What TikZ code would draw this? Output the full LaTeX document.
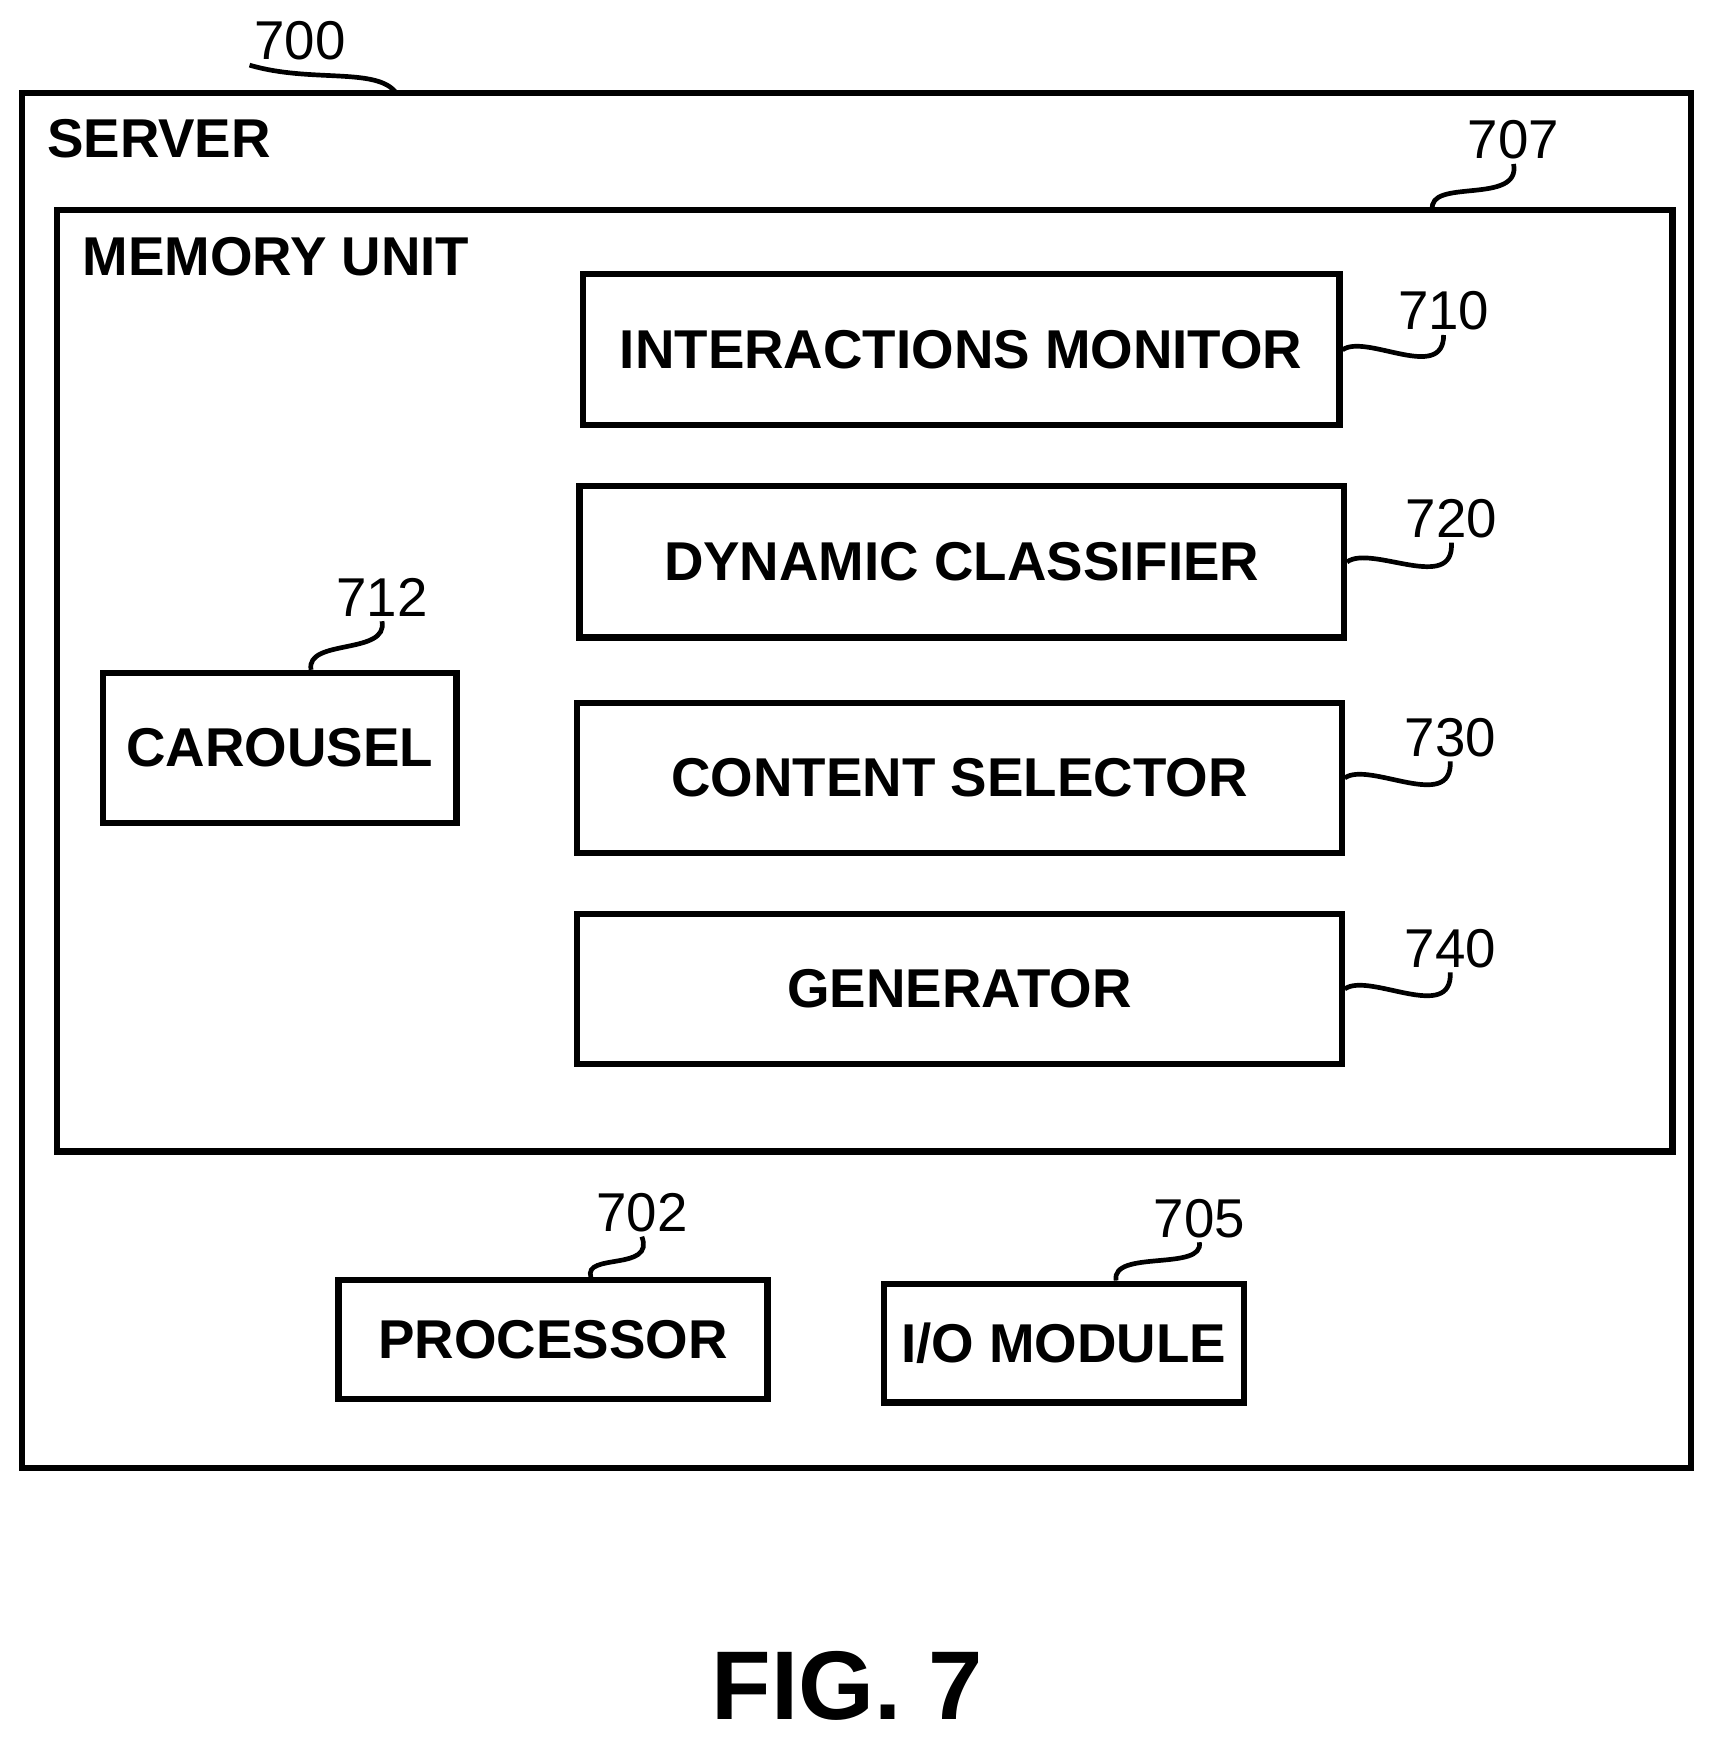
\documentclass[tikz,border=0pt]{standalone}
\usepackage{fontspec}
\setmainfont{Liberation Sans}
\begin{document}
\begin{tikzpicture}[
      x=0.01cm, y=-0.01cm,
      every node/.style={
        font=\fontsize{14pt}{16pt}\selectfont,
        text=black,
      },
      frame/.style={
        draw,
        line width=1.6pt,
      },
      block/.style={
        draw,
        line width=1.6pt,
        font=\fontsize{14pt}{16pt}\selectfont\bfseries,
        align=center,
      },
      title/.style={
        anchor=west,
        font=\fontsize{14pt}{16pt}\selectfont\bfseries,
      },
      refnum/.style={
        inner sep=1pt,
      },
      leader/.style={
        line width=1.2pt,
      },
    ]

    \useasboundingbox (0,0) rectangle (1550,1575);

    \draw[frame] (20,84) rectangle (1523,1322);
    \node[title] (Server) at (30,125) {SERVER};
    \draw[frame] (51,189) rectangle (1506,1037);
    \node[title] (MemoryUnit) at (62,231) {MEMORY UNIT};

    \node[block, minimum width=6.81cm, minimum height=1.36cm] (Monitor) at (865.5,315) {INTERACTIONS MONITOR};
    \node[block, minimum width=6.88cm, minimum height=1.36cm] (Classifier) at (866,506) {DYNAMIC CLASSIFIER};
    \node[block, minimum width=6.88cm, minimum height=1.35cm] (Selector) at (864,700.5) {CONTENT SELECTOR};
    \node[block, minimum width=6.88cm, minimum height=1.35cm] (Generator) at (864,890.5) {GENERATOR};
    \node[block, minimum width=3.18cm, minimum height=1.35cm] (Carousel) at (252,673.5) {CAROUSEL};
    \node[block, minimum width=3.86cm, minimum height=1.07cm] (Processor) at (498,1206.5) {PROCESSOR};
    \node[block, minimum width=3.24cm, minimum height=1.07cm] (IOModule) at (958,1209.5) {I/O MODULE};

    \node[refnum] (n700) at (270,37) {700};
    \node[refnum] (n707) at (1363,126) {707};
    \node[refnum] (n710) at (1300,280) {710};
    \node[refnum] (n720) at (1307,467) {720};
    \node[refnum] (n730) at (1306,664) {730};
    \node[refnum] (n740) at (1306,854) {740};
    \node[refnum] (n712) at (344,538) {712};
    \node[refnum] (n702) at (578,1092) {702};
    \node[refnum] (n705) at (1080,1097) {705};

    \coordinate (ServerTop) at (357,84);
    \coordinate (MemoryTop) at (1290,189);

    \draw[leader] (n700.south west) .. controls (280,75) and (340,60) .. (ServerTop);
    \draw[leader] (MemoryTop) .. controls (1285,160) and (1370,185) .. (n707.south);
    \draw[leader] (Monitor.east) .. controls (1230,300) and (1300,345) .. (n710.south);
    \draw[leader] (Classifier.east) .. controls (1235,490) and (1310,535) .. (n720.south);
    \draw[leader] (Selector.east) .. controls (1233,685) and (1308,732) .. (n730.south);
    \draw[leader] (Generator.east) .. controls (1233,875) and (1308,922) .. (n740.south);
    \draw[leader] (Carousel.north west) ++(190,0) .. controls (275,575) and (350,590) .. (n712.south);
    \draw[leader] (Processor.north west) ++(230,0) .. controls (525,1128) and (590,1145) .. (n702.south);
    \draw[leader] (IOModule.north west) ++(212,0) .. controls (1000,1125) and (1085,1145) .. (n705.south);

    \node[font=\fontsize{25pt}{28pt}\selectfont\bfseries] (FigLabel) at (763,1518) {FIG. 7};
  \end{tikzpicture}
\end{document}
